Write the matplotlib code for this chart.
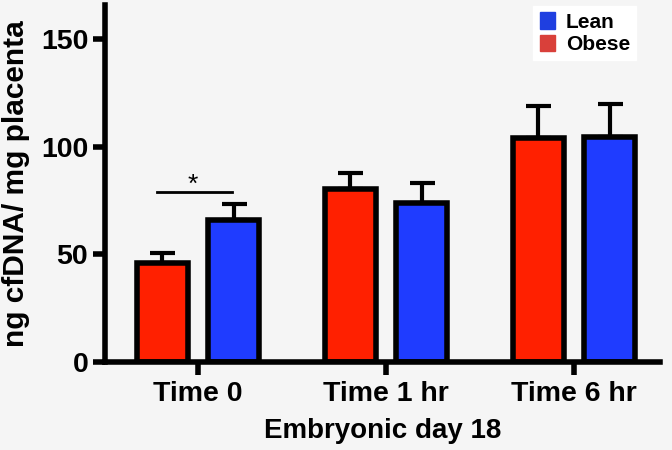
import matplotlib.pyplot as plt
import numpy as np

plt.rcParams['font.family'] = ['Liberation Sans', 'DejaVu Sans']
plt.rcParams['font.weight'] = 'bold'

groups = ['Time 0', 'Time 1 hr', 'Time 6 hr']
obese = [46, 80.5, 104]
obese_err = [4.5, 7.5, 15]
lean = [66, 74, 104.5]
lean_err = [7.5, 9, 15.5]

red = '#ff2000'
blue = '#1f3cff'

fig = plt.figure(figsize=(6.72, 4.5), dpi=100)
fig.patch.set_facecolor('#f5f5f5')
ax = fig.add_axes([0.156, 0.196, 0.826, 0.793])
ax.set_facecolor('#f5f5f5')

x = np.arange(len(groups))
w = 0.27
off = 0.19

ax.errorbar(x - off, obese, yerr=[np.zeros(3), obese_err], fmt='none',
            ecolor='black', elinewidth=3, capsize=9, capthick=3, zorder=1)
ax.errorbar(x + off, lean, yerr=[np.zeros(3), lean_err], fmt='none',
            ecolor='black', elinewidth=3, capsize=9, capthick=3, zorder=1)
ax.bar(x - off, obese, w, color=red, edgecolor='black', linewidth=4, zorder=2)
ax.bar(x + off, lean, w, color=blue, edgecolor='black', linewidth=4, zorder=2)

# significance bracket
ax.plot([x[0] - 0.22, x[0] + 0.18], [79, 79], color='black', lw=2)
ax.text(x[0] - 0.03, 76.5, '*', ha='center', va='bottom', fontsize=19, fontweight='normal')

ax.set_xlim(-0.495, 2.457)
ax.set_ylim(0, 166)
ax.set_yticks([0, 50, 100, 150])
ax.set_xticks(x)
ax.set_xticklabels(groups)

for s in ['top', 'right']:
    ax.spines[s].set_visible(False)
for s in ['left', 'bottom']:
    ax.spines[s].set_linewidth(4)
ax.tick_params(axis='both', width=4, length=9, pad=3)
ax.tick_params(axis='y', labelsize=20.5)
ax.tick_params(axis='x', labelsize=20.5, pad=5)

ax.set_ylabel('ng cfDNA/ mg placenta', fontsize=21.5, fontweight='bold', labelpad=8)
ax.set_xlabel('Embryonic day 18', fontsize=20, fontweight='bold', labelpad=8)

h_lean = plt.Rectangle((0, 0), 1, 1, color='#1f3fe0')
h_obese = plt.Rectangle((0, 0), 1, 1, color='#d9403a')
leg = ax.legend([h_lean, h_obese], ['Lean', 'Obese'], loc='upper right',
                bbox_to_anchor=(0.976, 1.027), frameon=True, fancybox=False,
                edgecolor='white', facecolor='white', framealpha=1,
                fontsize=15, handlelength=0.75, handleheight=0.85,
                handletextpad=0.5, labelspacing=0.15, borderpad=0.3)

fig.savefig('out.png', dpi=100, facecolor=fig.get_facecolor())
